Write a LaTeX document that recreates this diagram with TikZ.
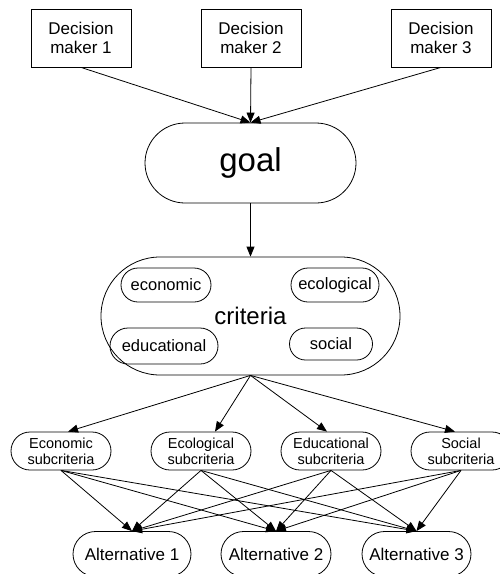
\documentclass[tikz,border=0pt]{standalone}
\usepackage{fontspec}
\setmainfont{Liberation Sans}
\usetikzlibrary{arrows.meta}
\usetikzlibrary{shapes.misc}

\begin{document}
\begin{tikzpicture}[x=1pt, y=-1pt, line width=0.8pt,
		makerbox/.style={draw, rectangle, minimum width=100pt, minimum height=58pt, inner sep=0pt, align=center, font=\fontsize{17}{19}\selectfont},
		pill/.style={draw, rounded rectangle, inner sep=0pt, align=center},
		subbox/.style={pill, minimum width=100pt, minimum height=38pt, font=\fontsize{14.5}{16}\selectfont},
		critbox/.style={pill, minimum height=34pt, font=\fontsize{16.5}{18}\selectfont},
		altbox/.style={pill, minimum height=45pt, font=\fontsize{17}{19}\selectfont},
		link/.style={-{Triangle[length=10pt,width=8pt]}}]

		\useasboundingbox (0,0) rectangle (500,574);

		\node[makerbox] (dm1) at (81,38) {Decision\\maker 1};
		\node[makerbox] (dm2) at (251,38) {Decision\\maker 2};
		\node[makerbox] (dm3) at (441,38) {Decision\\maker 3};

		\node[pill, minimum width=211pt, minimum height=80pt, font=\fontsize{33}{36}\selectfont] (goal) at (250.5,163) {goal};

		\node[pill, minimum width=299pt, minimum height=118pt, font=\fontsize{24}{26}\selectfont] (criteria) at (250.5,316) {criteria};
		\node[critbox, minimum width=90pt] (economic) at (166,285) {economic};
		\node[critbox, minimum width=88pt] (ecological) at (335,285) {ecological};
		\node[critbox, minimum width=108pt, minimum height=36pt] (educational) at (164,346) {educational};
		\node[critbox, minimum width=83pt, minimum height=32pt] (social) at (331,344) {social};

		\node[subbox] (ecosub) at (61,451) {Economic\\subcriteria};
		\node[subbox] (ecolsub) at (201,451) {Ecological\\subcriteria};
		\node[subbox] (edusub) at (331,451) {Educational\\subcriteria};
		\node[subbox] (socsub) at (461,451) {Social\\subcriteria};

		\node[altbox, minimum width=118pt] (alt1) at (132,554) {Alternative 1};
		\node[altbox, minimum width=110pt] (alt2) at (276,554) {Alternative 2};
		\node[altbox, minimum width=109pt] (alt3) at (416.5,554) {Alternative 3};

		\draw[link] (dm1.south) -- (goal.north);
		\draw[link] (dm2.south) -- (goal.north);
		\draw[link] (dm3.south) -- (goal.north);

		\draw[link] (goal.south) -- (criteria.north);

		\draw[link] (criteria.south) -- ([xshift=7pt]ecosub.north);
		\draw[link] (criteria.south) -- ([xshift=14pt]ecolsub.north);
		\draw[link] (criteria.south) -- ([xshift=-4pt]edusub.north);
		\draw[link] (criteria.south) -- ([xshift=-6pt]socsub.north);

		\draw[link] (ecosub.south) -- (alt1.north);
		\draw[link] (ecosub.south) -- (alt2.north);
		\draw[link] (ecosub.south) -- (alt3.north);
		\draw[link] (ecolsub.south) -- (alt1.north);
		\draw[link] (ecolsub.south) -- (alt2.north);
		\draw[link] (ecolsub.south) -- (alt3.north);
		\draw[link] (edusub.south) -- (alt1.north);
		\draw[link] (edusub.south) -- (alt2.north);
		\draw[link] (edusub.south) -- (alt3.north);
		\draw[link] (socsub.south) -- (alt1.north);
		\draw[link] (socsub.south) -- (alt2.north);
		\draw[link] (socsub.south) -- (alt3.north);

	\end{tikzpicture}
\end{document}
